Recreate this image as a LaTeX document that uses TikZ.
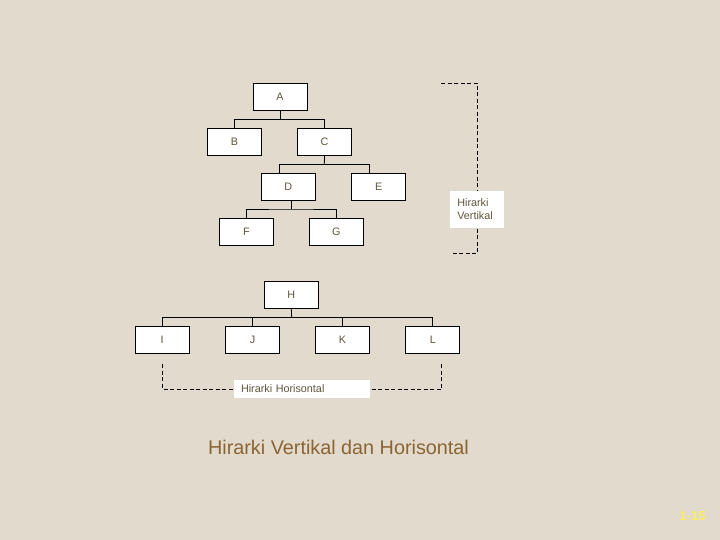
\documentclass[tikz,border=0pt]{standalone}
\usepackage{fontspec}
\setmainfont{Liberation Sans}
\definecolor{latar}{RGB}{226,218,205}
\definecolor{teks}{RGB}{95,85,60}
\definecolor{judul}{RGB}{140,100,50}
\definecolor{nomor}{RGB}{250,238,100}
\begin{document}
\begin{tikzpicture}[x=1pt,y=-1pt,
  kotak/.style={draw=black, fill=white, line width=0.8pt, minimum width=54pt, minimum height=27pt, inner sep=0pt, font=\fontsize{10.8}{13}\selectfont, text=teks},
  garis/.style={line width=0.8pt},
  putus/.style={line width=0.8pt, dash pattern=on 4pt off 2.5pt},
  label/.style={fill=white, inner xsep=7pt, inner ysep=0pt, align=left, font=\fontsize{10.8}{12.7}\selectfont, text=teks}]
\useasboundingbox (0,0) rectangle (720,540);
\fill[latar] (0,0) rectangle (720,540);
% hirarki vertikal
\node[kotak] (A) at (280,96.7) {A};
\node[kotak] (B) at (234.5,142) {B};
\node[kotak] (C) at (324.5,142) {C};
\node[kotak] (D) at (288.3,186.7) {D};
\node[kotak] (E) at (378.7,186.7) {E};
\node[kotak] (F) at (246.3,231.7) {F};
\node[kotak] (G) at (336.3,231.7) {G};
\coordinate (ab) at (280,119.3);
\coordinate (c1) at (324.3,164.3);
\coordinate (d1) at (279.3,164.3);
\coordinate (e1) at (369.3,164.3);
\coordinate (dfg) at (291,209);
\draw[garis] (A.south) -- (ab);
\draw[garis] (B.north) |- (ab) -| (C.north);
\draw[garis] (C.south) -- (c1);
\draw[garis] (d1 |- D.north) -- (d1) -- (e1) -- (e1 |- E.north);
\draw[garis] (dfg |- D.south) -- (dfg);
\draw[garis] (F.north) |- (dfg) -| (G.north);
\coordinate (v1) at (441,83.3);
\coordinate (v2) at (477.3,83.3);
\coordinate (v3) at (477.3,253.7);
\coordinate (v4) at (452,253.7);
\draw[putus] (v1) -- (v2) -- (v3) -- (v4);
\node[label, text width=40pt, minimum height=37pt] (lv) at (477.3,209.2) {Hirarki\\Vertikal};
% hirarki horisontal
\node[kotak] (H) at (291.3,295) {H};
\node[kotak] (I) at (162.2,340) {I};
\node[kotak] (J) at (252.5,340) {J};
\node[kotak] (K) at (342.5,340) {K};
\node[kotak] (L) at (432.8,340) {L};
\coordinate (h1) at (291.7,317.7);
\draw[garis] (H.south) -- (h1);
\draw[garis] (I.north) |- (h1) -| (L.north);
\draw[garis] (J.north) -- (J.north |- h1);
\draw[garis] (K.north) -- (K.north |- h1);
\coordinate (h2) at (162.3,364.3);
\coordinate (h3) at (162.3,389);
\coordinate (h4) at (441.7,389);
\coordinate (h5) at (441.7,364.3);
\draw[putus] (h2) -- (h3) -- (h4) -- (h5);
\node[label, text width=122pt, minimum height=18pt] (lh) at (302,389) {Hirarki Horisontal};
% judul
\node[font=\fontsize{19.8}{22}\selectfont, text=judul] (judul) at (338.5,447.5) {Hirarki Vertikal dan Horisontal};
\node[font=\fontsize{13}{15}\selectfont\bfseries, text=nomor] (hal) at (692.5,516) {1-15};
\end{tikzpicture}
\end{document}
